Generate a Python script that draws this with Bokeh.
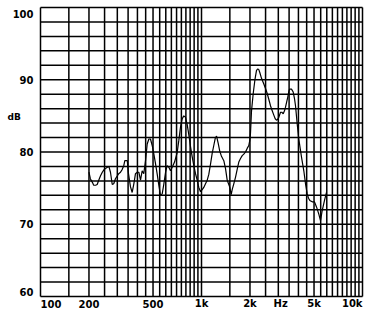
from bokeh.plotting import figure
from bokeh.models import Range1d, ColumnDataSource
from bokeh.core.properties import value
from bokeh.embed import file_html
from bokeh.resources import INLINE

# ---- data ----
freq_hz = [200, 204, 210, 214, 220, 225, 230, 236, 242, 247, 253, 260, 266, 272, 279, 285, 292, 300,
           306, 314, 322, 329, 334, 346, 351, 357, 362, 371, 380, 389, 399, 408, 418, 428, 438, 449,
           460, 471, 482, 494, 506, 518, 531, 543, 556, 570, 583, 598, 612, 627, 642, 658, 680, 706,
           723, 741, 759, 776, 796, 815, 834, 855, 876, 896, 918, 940, 962, 986, 1010, 1033, 1059,
           1085, 1110, 1137, 1165, 1192, 1217, 1240, 1270, 1299, 1331, 1376, 1410, 1444, 1478, 1499,
           1529, 1551, 1587, 1626, 1666, 1705, 1747, 1790, 1831, 1876, 1922, 1967, 1995, 2015, 2045,
           2095, 2144, 2196, 2238, 2270, 2302, 2359, 2438, 2498, 2559, 2618, 2683, 2749, 2813, 2870,
           2924, 2965, 3021, 3095, 3153, 3218, 3277, 3325, 3387, 3436, 3486, 3521, 3622, 3712, 3781,
           3836, 3930, 4021, 4102, 4180, 4320, 4426, 4535, 4620, 4707, 4871, 5034, 5180, 5353, 5485,
           5620, 5808, 5976]
level_db = [77.2, 76.3, 75.8, 75.4, 75.4, 75.5, 76.1, 76.7, 77.2, 77.5, 77.7, 77.9, 78.0, 77.2, 75.5,
            75.6, 76.3, 76.7, 77.0, 77.2, 77.6, 78.1, 78.8, 78.8, 77.2, 76.1, 75.2, 74.4, 75.6, 77.0,
            77.2, 77.2, 76.1, 77.4, 77.0, 78.8, 81.1, 81.8, 81.8, 80.9, 79.7, 78.4, 76.9, 75.4, 74.0,
            74.2, 75.5, 77.2, 78.1, 77.9, 77.4, 77.9, 78.6, 79.9, 81.6, 83.5, 84.6, 85.0, 84.8, 83.8,
            82.4, 80.7, 79.3, 78.1, 77.0, 76.1, 75.1, 74.5, 74.8, 75.1, 75.6, 76.1, 76.9, 78.3, 79.8,
            80.9, 81.9, 82.2, 81.2, 80.1, 79.4, 78.8, 77.7, 76.1, 75.5, 75.1, 74.1, 74.8, 75.6, 76.5,
            77.6, 78.6, 79.1, 79.5, 79.7, 80.0, 80.5, 80.9, 81.6, 82.6, 85.7, 88.1, 89.9, 91.3, 91.5,
            91.4, 91.0, 90.2, 89.4, 88.8, 88.1, 87.3, 86.4, 85.7, 85.1, 84.6, 84.4, 84.5, 84.8, 85.5,
            85.5, 85.3, 85.7, 86.2, 87.0, 87.6, 88.4, 88.7, 88.7, 88.3, 87.4, 86.4, 83.9, 81.8, 80.5,
            79.3, 77.4, 75.6, 74.2, 73.6, 73.3, 73.1, 73.1, 72.4, 71.4, 70.5, 71.9, 73.3, 74.4]

x_grid_hz = [100, 150, 200, 250, 300, 350, 400, 450, 500, 550, 600, 650, 700, 750, 800, 850, 900, 950,
             1000, 1500, 2000, 2500, 3000, 3500, 4000, 4500, 5000, 5500, 6000, 6500, 7000, 7500, 8000,
             8500, 9000, 9500, 10000]
y_grid_db = [60, 62, 64, 66, 68, 70, 72, 74, 76, 78, 80, 82, 84, 86, 88, 90, 92, 94, 96, 98, 100]
x_min_hz, x_max_hz = 100, 10000
y_min_db, y_max_db = 60, 100

x_tick_hz = [100, 200, 500, 1000, 2000, 3100, 5000, 10000]
x_tick_text = ["100", "200", "500", "1k", "2k", "Hz", "5k", "10k"]
y_tick_db = [100, 90, 80, 70, 60]
y_tick_text = ["100", "90", "80", "70", "60"]
unit_text = ["dB"]
unit_db = [84.9]

# ---- styles / layout ----
x_tick_align = ["left", "center", "center", "center", "center", "center", "center", "right"]
y_tick_shift = [6, 0, 0, 0, -5]      # screen px, + is downward
FONT = "DejaVu Sans"
FSIZE = "10px"
W, H = 372, 313
PAD_L, PAD_R, PAD_T, PAD_B = 40, 10, 7, 17   # pixels around the grid box

# view ranges that leave room for the labels around the grid box
import math
span_x = math.log10(x_max_hz / x_min_hz)
px_per_dec = (W - PAD_L - PAD_R) / span_x
px_per_db = (H - PAD_T - PAD_B) / (y_max_db - y_min_db)
xr = Range1d(x_min_hz / 10 ** (PAD_L / px_per_dec), x_max_hz * 10 ** (PAD_R / px_per_dec))
yr = Range1d(y_min_db - PAD_B / px_per_db, y_max_db + PAD_T / px_per_db)

p = figure(width=W, height=H, x_axis_type="log", x_range=xr, y_range=yr,
           output_backend="svg", toolbar_location=None)
p.min_border = 0
p.axis.visible = False
p.grid.visible = False
p.outline_line_color = None
p.background_fill_color = "white"
p.border_fill_color = "white"

# grid
p.segment(x0=x_grid_hz, y0=[y_min_db] * len(x_grid_hz), x1=x_grid_hz, y1=[y_max_db] * len(x_grid_hz),
          line_color="black", line_width=1.5)
p.segment(x0=[x_min_hz] * len(y_grid_db), y0=y_grid_db, x1=[x_max_hz] * len(y_grid_db), y1=y_grid_db,
          line_color="black", line_width=1.5)

# response curve
p.line(freq_hz, level_db, line_color="black", line_width=1.2)

# labels
xs = ColumnDataSource(dict(x=x_tick_hz, y=[y_min_db] * len(x_tick_hz), t=x_tick_text, a=x_tick_align))
p.text(x="x", y="y", text="t", text_align="a", source=xs, y_offset=7, text_baseline="middle",
       text_font=value(FONT), text_font_size=FSIZE, text_font_style="bold", text_color="black")
ys = ColumnDataSource(dict(x=[x_min_hz] * len(y_tick_db), y=y_tick_db, t=y_tick_text, o=y_tick_shift))
p.text(x="x", y="y", text="t", source=ys, x_offset=-7, y_offset="o", text_align="right",
       text_baseline="middle", text_font=value(FONT), text_font_size=FSIZE, text_font_style="bold",
       text_color="black")
p.text(x=[x_min_hz], y=unit_db, text=unit_text, x_offset=-33, text_align="left", text_baseline="middle",
       text_font=value(FONT), text_font_size="9px", text_font_style="bold", text_color="black")

open("out.html", "w").write(file_html(p, INLINE))
